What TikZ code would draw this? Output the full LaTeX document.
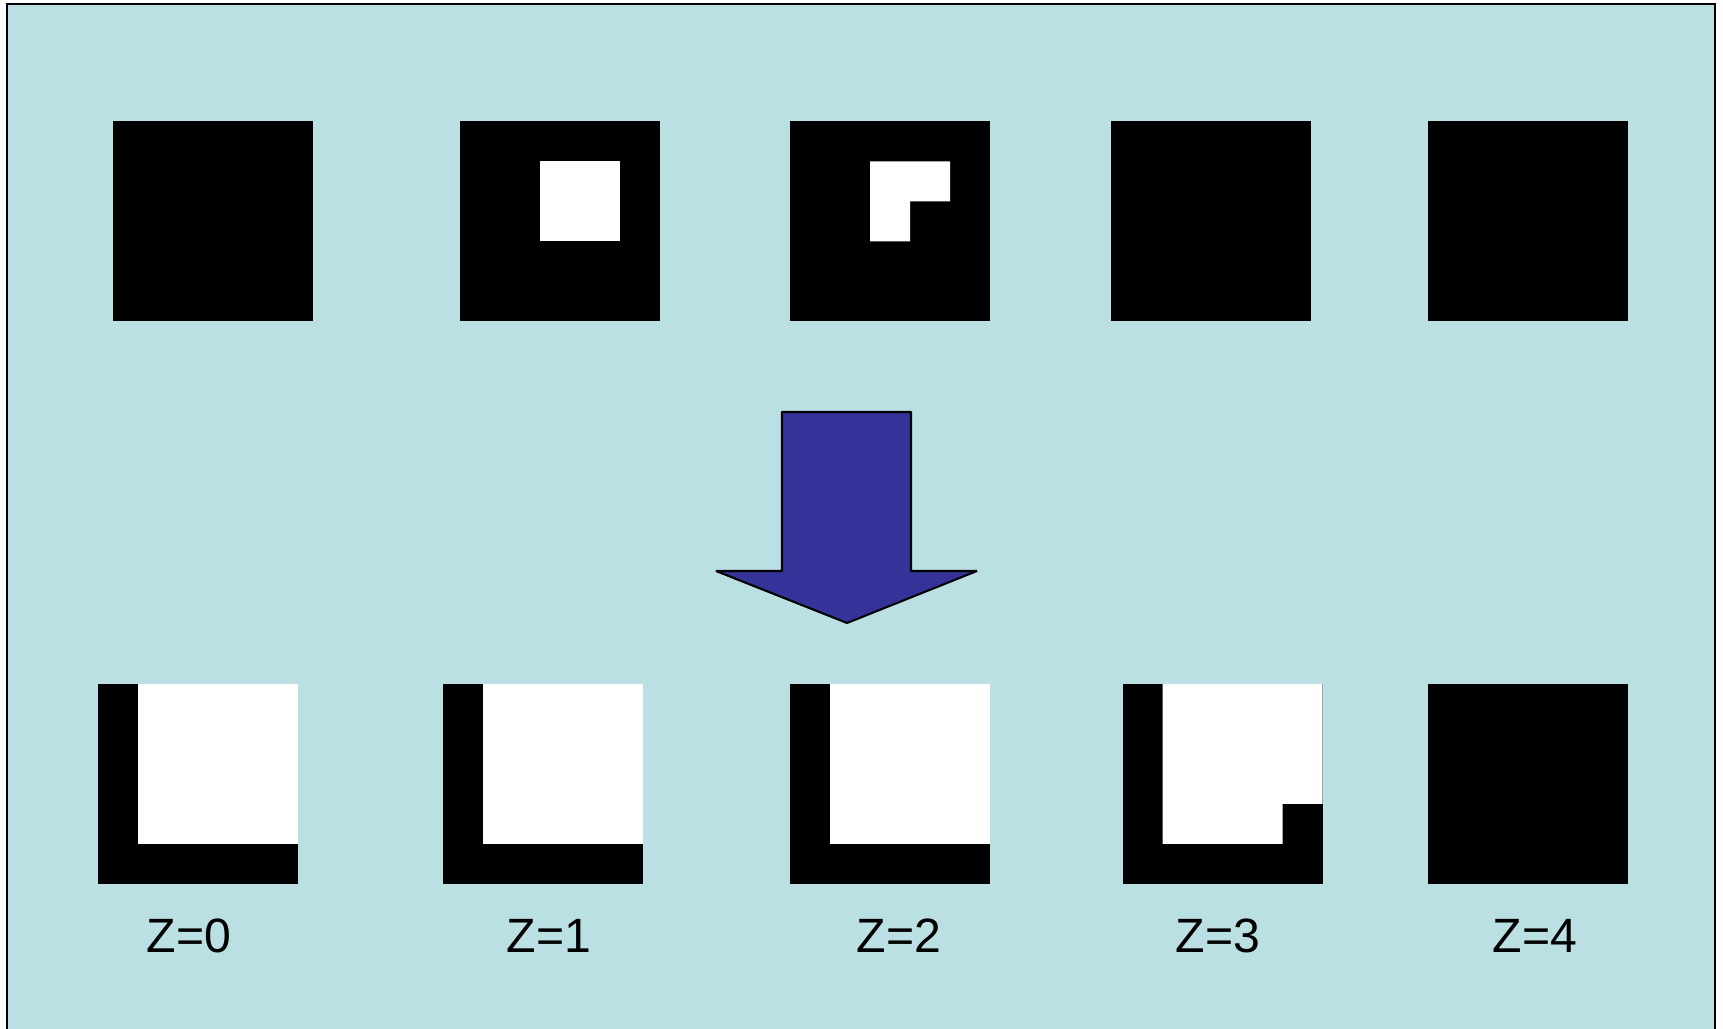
\documentclass[tikz,border=0pt]{standalone}
\usepackage{fontspec}
\setmainfont{Liberation Sans}
\usetikzlibrary{positioning,calc}
\definecolor{paleteal}{RGB}{187,224,227}
\definecolor{indigo}{RGB}{51,51,153}

\begin{document}
\begin{tikzpicture}[
  pix/.style={
    fill=black,
    minimum size=2cm,
    inner sep=0pt,
    outer sep=0pt
  },
  zlab/.style={
    inner sep=0pt,
    font=\fontsize{13.7}{16}\selectfont
  }
]
\useasboundingbox (0,0) rectangle (17.23,-10.29);
\fill[paleteal] (0.07,-0.04) rectangle (17.15,-10.29);
\draw[line width=0.5pt] (0.07,-10.29) -- (0.07,-0.04) -- (17.15,-0.04) -- (17.15,-10.29);

\node[pix] (t1) at (2.13,-2.215) {};
\node[pix] (t2) at (5.595,-2.215) {};
\node[pix] (t3) at (8.90,-2.215) {};
\node[pix] (t4) at (12.11,-2.215) {};
\node[pix] (t5) at (15.28,-2.215) {};

\fill[white] ($(t2.north west)+(0.8,-0.4)$) rectangle ++(0.8,-0.8);
\fill[white] ($(t3.north west)+(0.8,-0.4)$) -- ++(0.8,0) -- ++(0,-0.4) -- ++(-0.4,0)
  -- ++(0,-0.4) -- ++(-0.4,0) -- cycle;

\draw[fill=indigo,line width=0.6pt,line join=bevel] (7.82,-4.12) -- (9.11,-4.12) -- (9.11,-5.71)
  -- (9.77,-5.71) -- (8.47,-6.23) -- (7.16,-5.71) -- (7.82,-5.71) -- cycle;

\node[pix] (b1) at (1.98,-7.84) {};
\node[pix] (b2) at (5.425,-7.84) {};
\node[pix] (b3) at (8.90,-7.84) {};
\node[pix] (b4) at (12.225,-7.84) {};
\node[pix] (b5) at (15.28,-7.84) {};

\fill[white] ($(b1.north west)+(0.4,0)$) rectangle ++(1.6,-1.6);
\fill[white] ($(b2.north west)+(0.4,0)$) rectangle ++(1.6,-1.6);
\fill[white] ($(b3.north west)+(0.4,0)$) rectangle ++(1.6,-1.6);
\fill[white] ($(b4.north west)+(0.4,0)$) -- ++(1.6,0) -- ++(0,-1.2) -- ++(-0.4,0)
  -- ++(0,-0.4) -- ++(-1.2,0) -- cycle;

\node[zlab] (z0) at (1.89,-9.36) {Z=0};
\node[zlab] (z1) at (5.49,-9.36) {Z=1};
\node[zlab] (z2) at (8.99,-9.36) {Z=2};
\node[zlab] (z3) at (12.18,-9.36) {Z=3};
\node[zlab] (z4) at (15.35,-9.36) {Z=4};
\end{tikzpicture}
\end{document}
